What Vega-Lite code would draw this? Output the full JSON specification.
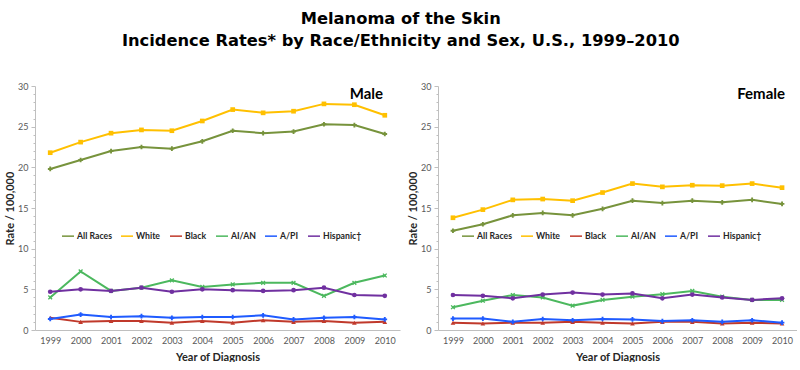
{
  "$schema": "https://vega.github.io/schema/vega-lite/v6.json",
  "background": "white",
  "padding": {"left": 4, "top": 10, "right": 0, "bottom": 0},
  "title": {
    "text": ["Melanoma of the Skin", "Incidence Rates* by Race/Ethnicity and Sex, U.S., 1999–2010"],
    "font": "DejaVu Sans",
    "fontSize": 16.3,
    "fontWeight": "bold",
    "lineHeight": 22,
    "color": "#000000",
    "anchor": "middle",
    "offset": 33
  },
  "config": {
    "view": {"stroke": null},
    "font": "Lato",
    "axis": {
      "domainColor": "#BFBFBF",
      "tickColor": "#BFBFBF",
      "labelColor": "#595959",
      "labelFont": "Lato",
      "labelFontSize": 9,
      "titleFont": "Lato",
      "titleFontSize": 11,
      "titleFontWeight": "bold",
      "titleColor": "#262626",
      "grid": false
    },
    "legend": {
      "labelFont": "Lato",
      "labelFontSize": 8.7,
      "labelFontWeight": "bold",
      "labelColor": "#262626"
    }
  },
  "data": {
    "values": [
      {"sex": "Male", "group": "All Races", "year": "1999", "rate": 19.8},
      {"sex": "Male", "group": "All Races", "year": "2000", "rate": 20.9},
      {"sex": "Male", "group": "All Races", "year": "2001", "rate": 22.0},
      {"sex": "Male", "group": "All Races", "year": "2002", "rate": 22.5},
      {"sex": "Male", "group": "All Races", "year": "2003", "rate": 22.3},
      {"sex": "Male", "group": "All Races", "year": "2004", "rate": 23.2},
      {"sex": "Male", "group": "All Races", "year": "2005", "rate": 24.5},
      {"sex": "Male", "group": "All Races", "year": "2006", "rate": 24.2},
      {"sex": "Male", "group": "All Races", "year": "2007", "rate": 24.4},
      {"sex": "Male", "group": "All Races", "year": "2008", "rate": 25.3},
      {"sex": "Male", "group": "All Races", "year": "2009", "rate": 25.2},
      {"sex": "Male", "group": "All Races", "year": "2010", "rate": 24.1},
      {"sex": "Male", "group": "White", "year": "1999", "rate": 21.8},
      {"sex": "Male", "group": "White", "year": "2000", "rate": 23.1},
      {"sex": "Male", "group": "White", "year": "2001", "rate": 24.2},
      {"sex": "Male", "group": "White", "year": "2002", "rate": 24.6},
      {"sex": "Male", "group": "White", "year": "2003", "rate": 24.5},
      {"sex": "Male", "group": "White", "year": "2004", "rate": 25.7},
      {"sex": "Male", "group": "White", "year": "2005", "rate": 27.1},
      {"sex": "Male", "group": "White", "year": "2006", "rate": 26.7},
      {"sex": "Male", "group": "White", "year": "2007", "rate": 26.9},
      {"sex": "Male", "group": "White", "year": "2008", "rate": 27.8},
      {"sex": "Male", "group": "White", "year": "2009", "rate": 27.7},
      {"sex": "Male", "group": "White", "year": "2010", "rate": 26.4},
      {"sex": "Male", "group": "Black", "year": "1999", "rate": 1.5},
      {"sex": "Male", "group": "Black", "year": "2000", "rate": 1.0},
      {"sex": "Male", "group": "Black", "year": "2001", "rate": 1.1},
      {"sex": "Male", "group": "Black", "year": "2002", "rate": 1.1},
      {"sex": "Male", "group": "Black", "year": "2003", "rate": 0.9},
      {"sex": "Male", "group": "Black", "year": "2004", "rate": 1.1},
      {"sex": "Male", "group": "Black", "year": "2005", "rate": 0.9},
      {"sex": "Male", "group": "Black", "year": "2006", "rate": 1.2},
      {"sex": "Male", "group": "Black", "year": "2007", "rate": 1.0},
      {"sex": "Male", "group": "Black", "year": "2008", "rate": 1.1},
      {"sex": "Male", "group": "Black", "year": "2009", "rate": 0.9},
      {"sex": "Male", "group": "Black", "year": "2010", "rate": 1.0},
      {"sex": "Male", "group": "AI/AN", "year": "1999", "rate": 4.0},
      {"sex": "Male", "group": "AI/AN", "year": "2000", "rate": 7.2},
      {"sex": "Male", "group": "AI/AN", "year": "2001", "rate": 4.8},
      {"sex": "Male", "group": "AI/AN", "year": "2002", "rate": 5.2},
      {"sex": "Male", "group": "AI/AN", "year": "2003", "rate": 6.1},
      {"sex": "Male", "group": "AI/AN", "year": "2004", "rate": 5.3},
      {"sex": "Male", "group": "AI/AN", "year": "2005", "rate": 5.6},
      {"sex": "Male", "group": "AI/AN", "year": "2006", "rate": 5.8},
      {"sex": "Male", "group": "AI/AN", "year": "2007", "rate": 5.8},
      {"sex": "Male", "group": "AI/AN", "year": "2008", "rate": 4.2},
      {"sex": "Male", "group": "AI/AN", "year": "2009", "rate": 5.8},
      {"sex": "Male", "group": "AI/AN", "year": "2010", "rate": 6.7},
      {"sex": "Male", "group": "A/PI", "year": "1999", "rate": 1.35},
      {"sex": "Male", "group": "A/PI", "year": "2000", "rate": 1.9},
      {"sex": "Male", "group": "A/PI", "year": "2001", "rate": 1.6},
      {"sex": "Male", "group": "A/PI", "year": "2002", "rate": 1.7},
      {"sex": "Male", "group": "A/PI", "year": "2003", "rate": 1.5},
      {"sex": "Male", "group": "A/PI", "year": "2004", "rate": 1.6},
      {"sex": "Male", "group": "A/PI", "year": "2005", "rate": 1.6},
      {"sex": "Male", "group": "A/PI", "year": "2006", "rate": 1.8},
      {"sex": "Male", "group": "A/PI", "year": "2007", "rate": 1.3},
      {"sex": "Male", "group": "A/PI", "year": "2008", "rate": 1.5},
      {"sex": "Male", "group": "A/PI", "year": "2009", "rate": 1.6},
      {"sex": "Male", "group": "A/PI", "year": "2010", "rate": 1.3},
      {"sex": "Male", "group": "Hispanic†", "year": "1999", "rate": 4.7},
      {"sex": "Male", "group": "Hispanic†", "year": "2000", "rate": 5.0},
      {"sex": "Male", "group": "Hispanic†", "year": "2001", "rate": 4.8},
      {"sex": "Male", "group": "Hispanic†", "year": "2002", "rate": 5.2},
      {"sex": "Male", "group": "Hispanic†", "year": "2003", "rate": 4.7},
      {"sex": "Male", "group": "Hispanic†", "year": "2004", "rate": 5.0},
      {"sex": "Male", "group": "Hispanic†", "year": "2005", "rate": 4.9},
      {"sex": "Male", "group": "Hispanic†", "year": "2006", "rate": 4.8},
      {"sex": "Male", "group": "Hispanic†", "year": "2007", "rate": 4.9},
      {"sex": "Male", "group": "Hispanic†", "year": "2008", "rate": 5.2},
      {"sex": "Male", "group": "Hispanic†", "year": "2009", "rate": 4.3},
      {"sex": "Male", "group": "Hispanic†", "year": "2010", "rate": 4.2},
      {"sex": "Female", "group": "All Races", "year": "1999", "rate": 12.2},
      {"sex": "Female", "group": "All Races", "year": "2000", "rate": 13.0},
      {"sex": "Female", "group": "All Races", "year": "2001", "rate": 14.1},
      {"sex": "Female", "group": "All Races", "year": "2002", "rate": 14.4},
      {"sex": "Female", "group": "All Races", "year": "2003", "rate": 14.1},
      {"sex": "Female", "group": "All Races", "year": "2004", "rate": 14.9},
      {"sex": "Female", "group": "All Races", "year": "2005", "rate": 15.9},
      {"sex": "Female", "group": "All Races", "year": "2006", "rate": 15.6},
      {"sex": "Female", "group": "All Races", "year": "2007", "rate": 15.9},
      {"sex": "Female", "group": "All Races", "year": "2008", "rate": 15.7},
      {"sex": "Female", "group": "All Races", "year": "2009", "rate": 16.0},
      {"sex": "Female", "group": "All Races", "year": "2010", "rate": 15.5},
      {"sex": "Female", "group": "White", "year": "1999", "rate": 13.8},
      {"sex": "Female", "group": "White", "year": "2000", "rate": 14.8},
      {"sex": "Female", "group": "White", "year": "2001", "rate": 16.0},
      {"sex": "Female", "group": "White", "year": "2002", "rate": 16.1},
      {"sex": "Female", "group": "White", "year": "2003", "rate": 15.9},
      {"sex": "Female", "group": "White", "year": "2004", "rate": 16.9},
      {"sex": "Female", "group": "White", "year": "2005", "rate": 18.0},
      {"sex": "Female", "group": "White", "year": "2006", "rate": 17.6},
      {"sex": "Female", "group": "White", "year": "2007", "rate": 17.8},
      {"sex": "Female", "group": "White", "year": "2008", "rate": 17.75},
      {"sex": "Female", "group": "White", "year": "2009", "rate": 18.0},
      {"sex": "Female", "group": "White", "year": "2010", "rate": 17.5},
      {"sex": "Female", "group": "Black", "year": "1999", "rate": 0.9},
      {"sex": "Female", "group": "Black", "year": "2000", "rate": 0.8},
      {"sex": "Female", "group": "Black", "year": "2001", "rate": 0.9},
      {"sex": "Female", "group": "Black", "year": "2002", "rate": 0.9},
      {"sex": "Female", "group": "Black", "year": "2003", "rate": 1.0},
      {"sex": "Female", "group": "Black", "year": "2004", "rate": 0.9},
      {"sex": "Female", "group": "Black", "year": "2005", "rate": 0.8},
      {"sex": "Female", "group": "Black", "year": "2006", "rate": 1.0},
      {"sex": "Female", "group": "Black", "year": "2007", "rate": 1.0},
      {"sex": "Female", "group": "Black", "year": "2008", "rate": 0.8},
      {"sex": "Female", "group": "Black", "year": "2009", "rate": 0.9},
      {"sex": "Female", "group": "Black", "year": "2010", "rate": 0.8},
      {"sex": "Female", "group": "AI/AN", "year": "1999", "rate": 2.8},
      {"sex": "Female", "group": "AI/AN", "year": "2000", "rate": 3.6},
      {"sex": "Female", "group": "AI/AN", "year": "2001", "rate": 4.3},
      {"sex": "Female", "group": "AI/AN", "year": "2002", "rate": 4.0},
      {"sex": "Female", "group": "AI/AN", "year": "2003", "rate": 3.0},
      {"sex": "Female", "group": "AI/AN", "year": "2004", "rate": 3.7},
      {"sex": "Female", "group": "AI/AN", "year": "2005", "rate": 4.1},
      {"sex": "Female", "group": "AI/AN", "year": "2006", "rate": 4.4},
      {"sex": "Female", "group": "AI/AN", "year": "2007", "rate": 4.8},
      {"sex": "Female", "group": "AI/AN", "year": "2008", "rate": 4.1},
      {"sex": "Female", "group": "AI/AN", "year": "2009", "rate": 3.7},
      {"sex": "Female", "group": "AI/AN", "year": "2010", "rate": 3.7},
      {"sex": "Female", "group": "A/PI", "year": "1999", "rate": 1.4},
      {"sex": "Female", "group": "A/PI", "year": "2000", "rate": 1.4},
      {"sex": "Female", "group": "A/PI", "year": "2001", "rate": 1.0},
      {"sex": "Female", "group": "A/PI", "year": "2002", "rate": 1.35},
      {"sex": "Female", "group": "A/PI", "year": "2003", "rate": 1.2},
      {"sex": "Female", "group": "A/PI", "year": "2004", "rate": 1.35},
      {"sex": "Female", "group": "A/PI", "year": "2005", "rate": 1.3},
      {"sex": "Female", "group": "A/PI", "year": "2006", "rate": 1.1},
      {"sex": "Female", "group": "A/PI", "year": "2007", "rate": 1.2},
      {"sex": "Female", "group": "A/PI", "year": "2008", "rate": 1.0},
      {"sex": "Female", "group": "A/PI", "year": "2009", "rate": 1.2},
      {"sex": "Female", "group": "A/PI", "year": "2010", "rate": 0.9},
      {"sex": "Female", "group": "Hispanic†", "year": "1999", "rate": 4.3},
      {"sex": "Female", "group": "Hispanic†", "year": "2000", "rate": 4.2},
      {"sex": "Female", "group": "Hispanic†", "year": "2001", "rate": 3.9},
      {"sex": "Female", "group": "Hispanic†", "year": "2002", "rate": 4.35},
      {"sex": "Female", "group": "Hispanic†", "year": "2003", "rate": 4.6},
      {"sex": "Female", "group": "Hispanic†", "year": "2004", "rate": 4.35},
      {"sex": "Female", "group": "Hispanic†", "year": "2005", "rate": 4.5},
      {"sex": "Female", "group": "Hispanic†", "year": "2006", "rate": 3.9},
      {"sex": "Female", "group": "Hispanic†", "year": "2007", "rate": 4.35},
      {"sex": "Female", "group": "Hispanic†", "year": "2008", "rate": 4.0},
      {"sex": "Female", "group": "Hispanic†", "year": "2009", "rate": 3.7},
      {"sex": "Female", "group": "Hispanic†", "year": "2010", "rate": 3.9}
    ]
  },
  "spacing": 7,
  "resolve": {
    "scale": {"color": "shared", "shape": "shared"},
    "legend": {"color": "independent"}
  },
  "hconcat": [
    {
      "width": 365,
      "height": 244,
      "title": {"text": "Male", "anchor": "end", "frame": "group", "orient": "top", "offset": -20, "dx": -17, "font": "Lato", "fontSize": 15, "fontWeight": "bold", "color": "#000000"},
      "transform": [{"filter": "datum.sex === 'Male'"}],
      "encoding": {
        "x": {
          "field": "year", "type": "ordinal",
          "scale": {"type": "point", "padding": 0.5},
          "axis": {"title": "Year of Diagnosis", "labelAngle": 0, "ticks": false, "labelPadding": 6, "titlePadding": 6}
        },
        "y": {
          "field": "rate", "type": "quantitative",
          "scale": {"domain": [0, 30], "nice": false},
          "axis": {
            "title": "Rate / 100,000",
            "values": [0,1,2,3,4,5,6,7,8,9,10,11,12,13,14,15,16,17,18,19,20,21,22,23,24,25,26,27,28,29,30],
            "labelExpr": "datum.value % 5 === 0 ? datum.label : ''",
            "tickSize": {"condition": {"test": "datum.value % 5 === 0", "value": 4}, "value": 2},
            "labelPadding": 3,
            "titlePadding": 2
          }
        },
        "color": {
          "field": "group", "type": "nominal",
          "scale": {
            "domain": ["All Races", "White", "Black", "AI/AN", "A/PI", "Hispanic†"],
            "range": ["#77933C", "#FFC000", "#C0392B", "#4CB85E", "#1F5BFF", "#7030A0"]
          },
          "legend": {
            "orient": "none", "legendX": 26, "legendY": 143,
            "direction": "horizontal", "columns": 6, "title": null,
            "symbolType": "stroke", "symbolSize": 144, "symbolStrokeWidth": 1.5,
            "columnPadding": 6, "labelOffset": 2
          }
        }
      },
      "layer": [
        {"mark": {"type": "line", "strokeWidth": 2}},
        {
          "mark": {"type": "point", "filled": true, "size": 22, "opacity": 1},
          "encoding": {
            "shape": {
              "field": "group", "type": "nominal", "legend": null,
              "scale": {
                "domain": ["All Races", "White", "Black", "AI/AN", "A/PI", "Hispanic†"],
                "range": ["cross", "square", "triangle-up", "M-1,-0.6L-0.6,-1L0,-0.4L0.6,-1L1,-0.6L0.4,0L1,0.6L0.6,1L0,0.4L-0.6,1L-1,0.6L-0.4,0Z", "cross", "circle"]
              }
            }
          }
        }
      ]
    },
    {
      "width": 359,
      "height": 244,
      "title": {"text": "Female", "anchor": "end", "frame": "group", "orient": "top", "offset": -20, "dx": -12, "font": "Lato", "fontSize": 15, "fontWeight": "bold", "color": "#000000"},
      "transform": [{"filter": "datum.sex === 'Female'"}],
      "encoding": {
        "x": {
          "field": "year", "type": "ordinal",
          "scale": {"type": "point", "padding": 0.5},
          "axis": {"title": "Year of Diagnosis", "labelAngle": 0, "ticks": false, "labelPadding": 6, "titlePadding": 6}
        },
        "y": {
          "field": "rate", "type": "quantitative",
          "scale": {"domain": [0, 30], "nice": false},
          "axis": {
            "title": "Rate / 100,000",
            "values": [0,1,2,3,4,5,6,7,8,9,10,11,12,13,14,15,16,17,18,19,20,21,22,23,24,25,26,27,28,29,30],
            "labelExpr": "datum.value % 5 === 0 ? datum.label : ''",
            "tickSize": {"condition": {"test": "datum.value % 5 === 0", "value": 4}, "value": 2},
            "labelPadding": 3,
            "titlePadding": 2
          }
        },
        "color": {
          "field": "group", "type": "nominal",
          "scale": {
            "domain": ["All Races", "White", "Black", "AI/AN", "A/PI", "Hispanic†"],
            "range": ["#77933C", "#FFC000", "#C0392B", "#4CB85E", "#1F5BFF", "#7030A0"]
          },
          "legend": {
            "orient": "none", "legendX": 23, "legendY": 143,
            "direction": "horizontal", "columns": 6, "title": null,
            "symbolType": "stroke", "symbolSize": 144, "symbolStrokeWidth": 1.5,
            "columnPadding": 6, "labelOffset": 2
          }
        }
      },
      "layer": [
        {"mark": {"type": "line", "strokeWidth": 2}},
        {
          "mark": {"type": "point", "filled": true, "size": 22, "opacity": 1},
          "encoding": {
            "shape": {
              "field": "group", "type": "nominal", "legend": null,
              "scale": {
                "domain": ["All Races", "White", "Black", "AI/AN", "A/PI", "Hispanic†"],
                "range": ["cross", "square", "triangle-up", "M-1,-0.6L-0.6,-1L0,-0.4L0.6,-1L1,-0.6L0.4,0L1,0.6L0.6,1L0,0.4L-0.6,1L-1,0.6L-0.4,0Z", "cross", "circle"]
              }
            }
          }
        }
      ]
    }
  ]
}
